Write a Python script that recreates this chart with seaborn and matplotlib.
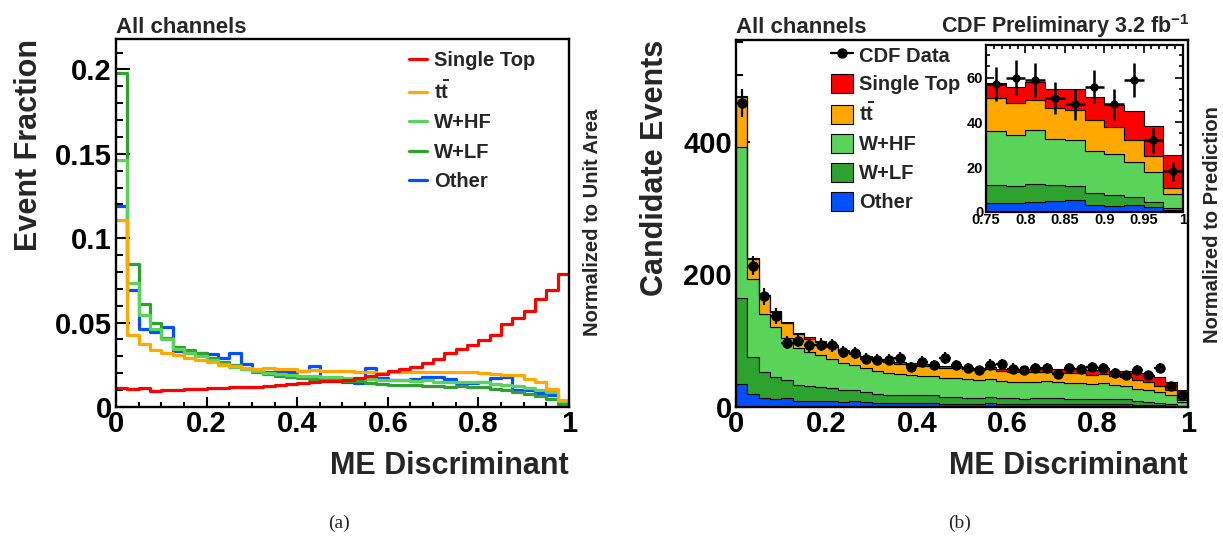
import numpy as np
import pandas as pd
import matplotlib
matplotlib.use("Agg")
import matplotlib.pyplot as plt
import seaborn as sns
from matplotlib.lines import Line2D
from matplotlib.patches import Patch
from matplotlib.ticker import MultipleLocator, FuncFormatter

# ---------------------------------------------------------------------------
# Binning of the matrix-element discriminant: 40 bins of width 0.025
# ---------------------------------------------------------------------------
n_bins = 40
bin_edges = np.linspace(0.0, 1.0, n_bins + 1)
bin_centers = 0.5 * (bin_edges[:-1] + bin_edges[1:])
half_width = 0.5 * (bin_edges[1] - bin_edges[0])

processes = ["Single Top", "ttbar", "W+HF", "W+LF", "Other"]
legend_labels = ["Single Top", r"$\mathrm{t}\bar{\mathrm{t}}$", "W+HF", "W+LF", "Other"]
colors = {
    "Single Top": "#ff0000",
    "ttbar": "#ffa800",
    "W+HF": "#5ad35a",
    "W+LF": "#2ea22e",
    "Other": "#0050ff",
}

# (a) templates normalized to unit area
frac_single_top = [0.0115, 0.0109, 0.0113, 0.0095, 0.0101, 0.0103, 0.0106, 0.0108, 0.0110, 0.0113,
                   0.0116, 0.0119, 0.0120, 0.0122, 0.0128, 0.0136, 0.0140, 0.0148, 0.0154, 0.0156,
                   0.0162, 0.0170, 0.0182, 0.0198, 0.0212, 0.0224, 0.0237, 0.0263, 0.0287, 0.0320,
                   0.0342, 0.0366, 0.0395, 0.0429, 0.0490, 0.0530, 0.0569, 0.0638, 0.0692, 0.0785]
frac_ttbar = [0.1110, 0.0425, 0.0376, 0.0340, 0.0320, 0.0306, 0.0293, 0.0281, 0.0267, 0.0251,
              0.0241, 0.0233, 0.0228, 0.0231, 0.0223, 0.0223, 0.0212, 0.0221, 0.0212, 0.0212,
              0.0212, 0.0210, 0.0210, 0.0200, 0.0210, 0.0210, 0.0207, 0.0207, 0.0207, 0.0207,
              0.0207, 0.0205, 0.0200, 0.0195, 0.0192, 0.0188, 0.0165, 0.0148, 0.0105, 0.0040]
frac_whf = [0.1466, 0.0735, 0.0544, 0.0465, 0.0400, 0.0346, 0.0320, 0.0300, 0.0277, 0.0257,
            0.0237, 0.0228, 0.0213, 0.0201, 0.0196, 0.0192, 0.0184, 0.0182, 0.0178, 0.0178,
            0.0174, 0.0172, 0.0164, 0.0162, 0.0158, 0.0158, 0.0155, 0.0158, 0.0150, 0.0150,
            0.0150, 0.0146, 0.0150, 0.0134, 0.0130, 0.0122, 0.0113, 0.0100, 0.0086, 0.0038]
frac_wlf = [0.1980, 0.0846, 0.0613, 0.0498, 0.0411, 0.0356, 0.0336, 0.0320, 0.0293, 0.0267,
            0.0247, 0.0228, 0.0208, 0.0194, 0.0185, 0.0180, 0.0174, 0.0164, 0.0158, 0.0158,
            0.0152, 0.0152, 0.0142, 0.0138, 0.0130, 0.0128, 0.0128, 0.0125, 0.0123, 0.0120,
            0.0123, 0.0116, 0.0119, 0.0108, 0.0098, 0.0088, 0.0078, 0.0065, 0.0050, 0.0020]
frac_other = [0.1190, 0.0696, 0.0461, 0.0445, 0.0474, 0.0332, 0.0326, 0.0320, 0.0312, 0.0293,
              0.0320, 0.0257, 0.0215, 0.0210, 0.0211, 0.0205, 0.0213, 0.0240, 0.0170, 0.0160,
              0.0150, 0.0140, 0.0230, 0.0170, 0.0160, 0.0158, 0.0168, 0.0178, 0.0178, 0.0165,
              0.0142, 0.0145, 0.0150, 0.0172, 0.0175, 0.0102, 0.0098, 0.0081, 0.0070, 0.0033]

# (b) predicted candidate events per bin
ev_single_top = [2.2, 2.1, 2.1, 1.8, 1.9, 2.0, 2.0, 2.1, 2.1, 2.1,
                 2.2, 2.3, 2.3, 2.3, 2.4, 2.6, 2.7, 2.8, 2.9, 3.0,
                 3.1, 3.2, 3.5, 3.8, 4.0, 4.3, 4.5, 5.0, 5.5, 6.1,
                 6.7, 7.2, 8.0, 8.5, 9.2, 10.1, 10.0, 13.0, 13.3, 14.9]
ev_ttbar = [75.0, 29.8, 26.3, 23.8, 22.4, 21.4, 20.5, 19.7, 18.7, 17.6,
            16.9, 16.3, 16.0, 16.2, 15.6, 15.6, 14.8, 15.5, 14.8, 14.8,
            14.8, 14.7, 14.7, 14.0, 14.7, 14.7, 14.5, 14.5, 14.5, 14.5,
            14.5, 14.2, 13.6, 13.7, 13.5, 13.8, 12.0, 9.7, 7.2, 2.6]
ev_whf = [228.5, 117.6, 87.0, 74.4, 64.0, 55.4, 51.2, 48.0, 44.3, 41.1,
          37.9, 36.5, 34.1, 32.2, 31.4, 30.7, 29.4, 29.1, 28.5, 28.5,
          27.8, 27.5, 26.2, 25.9, 25.3, 25.3, 24.8, 25.3, 24.0, 24.0,
          24.3, 22.8, 24.4, 20.6, 20.6, 18.8, 18.3, 16.0, 13.4, 6.3]
ev_wlf = [129.5, 55.8, 40.5, 32.9, 27.1, 23.5, 22.2, 21.1, 19.3, 17.6,
          16.3, 15.0, 13.7, 12.8, 12.2, 11.9, 11.5, 10.8, 10.4, 10.4,
          10.0, 10.0, 9.4, 9.1, 8.6, 8.4, 8.4, 8.3, 8.1, 7.9,
          8.2, 7.5, 7.7, 7.1, 6.3, 5.5, 4.8, 3.4, 2.3, 0.9]
ev_other = [34.0, 19.5, 12.9, 12.5, 13.3, 9.3, 9.1, 9.0, 8.7, 8.2,
            9.0, 7.2, 6.0, 5.9, 5.9, 5.7, 6.0, 6.7, 4.8, 4.5,
            4.2, 3.9, 6.4, 4.8, 4.5, 4.4, 4.7, 5.0, 5.0, 4.6,
            3.8, 4.0, 4.5, 4.9, 5.2, 3.0, 2.7, 3.0, 2.2, 0.7]

# observed CDF data
data_counts = [458, 213, 167, 137, 97, 100, 93, 94, 93, 83,
               82, 73, 71, 71, 74, 60, 68, 63, 74, 63,
               59, 55, 64, 65, 58, 55, 59, 59, 50, 59,
               57, 60, 59, 51, 48, 56, 48, 59, 32, 18]

fractions = dict(zip(processes, [frac_single_top, frac_ttbar, frac_whf, frac_wlf, frac_other]))
events = dict(zip(processes, [ev_single_top, ev_ttbar, ev_whf, ev_wlf, ev_other]))

stack_df = pd.DataFrame({
    "disc": np.tile(bin_centers, len(processes)),
    "events": np.concatenate([events[p] for p in processes]),
    "process": np.repeat(processes, len(bin_centers)),
})

# ---------------------------------------------------------------------------
# Style
# ---------------------------------------------------------------------------
sns.set_style("ticks")
plt.rcParams.update({
    "font.family": ["Liberation Sans", "DejaVu Sans"],
    "font.weight": "bold",
    "axes.labelweight": "bold",
    "mathtext.fontset": "custom",
    "mathtext.rm": "Liberation Sans:bold",
    "mathtext.it": "Liberation Sans:bold",
    "mathtext.bf": "Liberation Sans:bold",
    "axes.edgecolor": "black",
    "axes.linewidth": 1.7,
    "xtick.color": "black",
    "ytick.color": "black",
})

W, H = 1223, 545
fig = plt.figure(figsize=(W / 100, H / 100), dpi=100)
fig.patch.set_facecolor("white")


def fig_rect(x0, y0, x1, y1):
    return [x0 / W, 1 - y1 / H, (x1 - x0) / W, (y1 - y0) / H]


fmt = FuncFormatter(lambda v, p: "%g" % round(v, 6))


def style_main(ax, ymax, ymajor, yminor):
    ax.set_xlim(0, 1)
    ax.set_ylim(0, ymax)
    ax.xaxis.set_major_locator(MultipleLocator(0.2))
    ax.xaxis.set_minor_locator(MultipleLocator(0.05))
    ax.yaxis.set_major_locator(MultipleLocator(ymajor))
    ax.yaxis.set_minor_locator(MultipleLocator(yminor))
    ax.xaxis.set_major_formatter(fmt)
    ax.yaxis.set_major_formatter(fmt)
    ax.tick_params(which="both", direction="in", top=False, right=False,
                   labelsize=21, width=1.5, color="black")
    ax.tick_params(axis="y", which="major", length=10, pad=3)
    ax.tick_params(axis="y", which="minor", length=5)
    ax.tick_params(axis="x", which="major", length=7, pad=2)
    ax.tick_params(axis="x", which="minor", length=3.5)
    for s in ax.spines.values():
        s.set_visible(True)
        s.set_linewidth(1.7)
        s.set_color("black")


# ---------------------------------------------------------------------------
# (a) shapes normalized to unit area
# ---------------------------------------------------------------------------
axL = fig.add_axes(fig_rect(116, 39, 569, 407))
for p in ["Other", "W+LF", "W+HF", "ttbar", "Single Top"]:
    sns.histplot(x=bin_centers, weights=np.asarray(fractions[p]), bins=n_bins, binrange=(0, 1),
                 element="step", fill=False, color=colors[p], linewidth=2.3, ax=axL)
style_main(axL, 0.218, 0.05, 0.01)
axL.set_xlabel("ME Discriminant", fontsize=22, loc="right")
axL.xaxis.set_label_coords(1.0, -0.12)
axL.set_ylabel("Event Fraction", fontsize=22, loc="top")
axL.yaxis.set_label_coords(-0.158, 1.0)

left_handles = [Line2D([0], [0], color=colors[p], lw=2.3) for p in processes]
axL.legend(left_handles, legend_labels, loc="upper left",
           bbox_to_anchor=(409 / W, 1 - 51 / H), bbox_transform=fig.transFigure,
           frameon=False, fontsize=14.5, handlelength=0.9, handletextpad=0.35,
           labelspacing=0.52, borderpad=0, borderaxespad=0)

fig.text(116 / W, 1 - 33 / H, "All channels", fontsize=16, ha="left", va="baseline")
fig.text(592 / W, 1 - 222 / H, "Normalized to Unit Area", fontsize=14.5,
         rotation=90, ha="center", va="center")

# ---------------------------------------------------------------------------
# (b) stacked prediction with data
# ---------------------------------------------------------------------------
axR = fig.add_axes(fig_rect(736, 40, 1188, 407))
sns.histplot(data=stack_df, x="disc", weights="events", hue="process", hue_order=processes,
             palette=colors, multiple="stack", bins=n_bins, binrange=(0, 1), element="step",
             alpha=1, edgecolor="black", linewidth=0.8, legend=False, ax=axR)
axR.errorbar(bin_centers, data_counts, yerr=np.sqrt(data_counts), xerr=half_width,
             fmt="o", color="black", ms=6.5, elinewidth=1.6, capsize=0, zorder=5)
style_main(axR, 553, 200, 50)
axR.set_xlabel("ME Discriminant", fontsize=22, loc="right")
axR.xaxis.set_label_coords(1.0, -0.12)
axR.set_ylabel("Candidate Events", fontsize=22, loc="top")
axR.yaxis.set_label_coords(-0.146, 1.0)

right_handles = [Line2D([0], [0], color="black", lw=1.6, marker="o", ms=6.5)]
right_handles += [Patch(facecolor=colors[p], edgecolor="black", linewidth=0.8) for p in processes]
axR.legend(right_handles, ["CDF Data"] + legend_labels, loc="upper left",
           bbox_to_anchor=(831 / W, 1 - 45 / H), bbox_transform=fig.transFigure,
           frameon=False, fontsize=14.5, handlelength=1.1, handleheight=1.1,
           handletextpad=0.3, labelspacing=0.42, borderpad=0, borderaxespad=0)

fig.text(736 / W, 1 - 33 / H, "All channels", fontsize=16, ha="left", va="baseline")
fig.text(1189 / W, 1 - 33 / H, r"CDF Preliminary 3.2 fb$^{-1}$", fontsize=15.5,
         ha="right", va="baseline")
fig.text(1212 / W, 1 - 225 / H, "Normalized to Prediction", fontsize=14.5,
         rotation=90, ha="center", va="center")

# inset: high-discriminant region
axI = fig.add_axes(fig_rect(986, 45, 1183, 211.7))
hi = stack_df[stack_df["disc"] > 0.75]
sns.histplot(data=hi, x="disc", weights="events", hue="process", hue_order=processes,
             palette=colors, multiple="stack", bins=10, binrange=(0.75, 1.0), element="step",
             alpha=1, edgecolor="black", linewidth=0.8, legend=False, ax=axI)
axI.errorbar(bin_centers[30:], data_counts[30:], yerr=np.sqrt(data_counts[30:]),
             xerr=half_width, fmt="o", color="black", ms=5, elinewidth=1.8, capsize=0, zorder=5)
axI.set_xlim(0.75, 1.0)
axI.set_ylim(0, 74.6)
axI.xaxis.set_major_locator(MultipleLocator(0.05))
axI.xaxis.set_minor_locator(MultipleLocator(0.01))
axI.yaxis.set_major_locator(MultipleLocator(20))
axI.yaxis.set_minor_locator(MultipleLocator(5))
axI.xaxis.set_major_formatter(fmt)
axI.yaxis.set_major_formatter(fmt)
axI.tick_params(which="both", direction="in", top=True, right=True,
                labelsize=10.5, width=1.2, color="black")
axI.tick_params(which="major", length=6, pad=1)
axI.tick_params(axis="y", which="major", pad=2)
axI.tick_params(which="minor", length=3)
axI.set_xlabel("")
axI.set_ylabel("")
for s in axI.spines.values():
    s.set_visible(True)
    s.set_linewidth(1.6)
    s.set_color("black")

# sub-figure captions
fig.text(339 / W, 1 - 523 / H, "(a)", fontsize=14, family="Liberation Serif",
         weight="normal", ha="center", va="center")
fig.text(960 / W, 1 - 523 / H, "(b)", fontsize=14, family="Liberation Serif",
         weight="normal", ha="center", va="center")

fig.savefig("out.png", dpi=100, facecolor="white")
